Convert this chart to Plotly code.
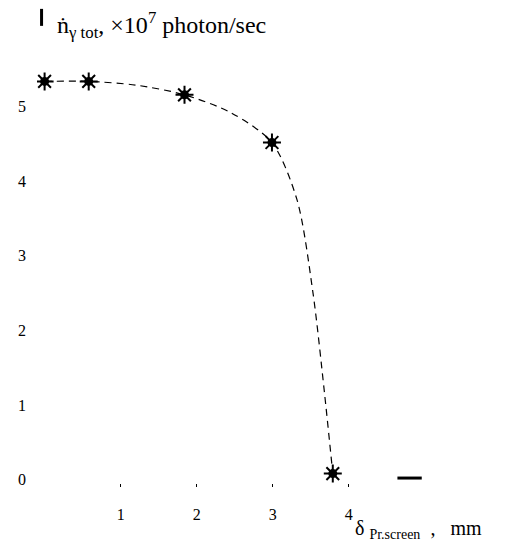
import plotly.graph_objects as go

# measured points
delta_mm = [0.0, 0.58, 1.84, 2.99, 3.79]
n_photon = [5.34, 5.34, 5.16, 4.52, 0.08]

# hand-drawn smooth curve through the points
curve_x = [0.0, 0.58, 1.2, 1.84, 2.45, 2.99, 3.32, 3.53, 3.68, 3.79]
curve_y = [5.34, 5.34, 5.29, 5.16, 4.92, 4.52, 3.75, 2.5, 1.17, 0.08]

# short arrow-like stub at the end of the x axis
stub_x = [4.64, 4.96]
stub_y = [0.02, 0.02]

x_ticks = [1, 2, 3, 4]
x_tick_text = ["1", "2", "3", "4"]
y_ticks = [0, 1, 2, 3, 4, 5]
y_tick_text = ["0", "1", "2", "3", "4", "5"]

FONT = "Liberation Serif, Times New Roman, serif"
NB = "\u00a0"

fig = go.Figure()
fig.add_trace(go.Scatter(
    x=curve_x, y=curve_y, mode="lines",
    line=dict(color="black", width=1.2, dash="7px,5px", shape="spline", smoothing=0.8),
    hoverinfo="skip", showlegend=False))
fig.add_trace(go.Scatter(
    x=delta_mm, y=n_photon, mode="markers",
    marker=dict(symbol="circle", size=9, color="black"),
    showlegend=False))
fig.add_trace(go.Scatter(
    x=delta_mm, y=n_photon, mode="markers",
    marker=dict(symbol="asterisk-open", size=15, color="black",
                line=dict(color="black", width=2)),
    showlegend=False, hoverinfo="skip"))
fig.add_trace(go.Scatter(
    x=stub_x, y=stub_y, mode="lines",
    line=dict(color="black", width=3),
    hoverinfo="skip", showlegend=False))

fig.update_layout(
    width=508, height=551,
    margin=dict(l=29, r=76, t=54, b=72),
    paper_bgcolor="white", plot_bgcolor="white",
    font=dict(family=FONT, size=15, color="black"),
    xaxis=dict(range=[-0.1, 5.2], showgrid=False, zeroline=False, showline=False,
               automargin=False,
               tickmode="array", tickvals=x_ticks, ticktext=x_tick_text,
               ticks="inside", ticklen=3, tickwidth=1, tickcolor="black",
               ticklabelstandoff=16, tickfont=dict(family=FONT, size=16)),
    yaxis=dict(range=[-0.1, 5.6], showgrid=False, zeroline=False, showline=False,
               automargin=False,
               tickmode="array", tickvals=y_ticks, ticktext=y_tick_text,
               ticks="", ticklabelstandoff=10, tickfont=dict(family=FONT, size=16)),
    shapes=[dict(type="line", xref="x", yref="paper", x0=-0.04, x1=-0.04,
                 y0=1.085, y1=1.125, line=dict(color="black", width=3))],
    annotations=[
        dict(text="ṅ<sub>γ tot</sub>, ×10<sup>7</sup>" + NB + "photon/sec",
             xref="paper", yref="paper", x=0.045, y=1.088, xanchor="left", yanchor="middle",
             showarrow=False, font=dict(family=FONT, size=24)),
        dict(text="δ" + NB + "<sub>Pr.screen</sub>" + NB + NB + "," + NB + NB + NB + "mm",
             xref="paper", yref="paper", x=0.785, y=-0.1, xanchor="left", yanchor="middle",
             showarrow=False, font=dict(family=FONT, size=20)),
    ],
)

fig.write_html("out.html")
